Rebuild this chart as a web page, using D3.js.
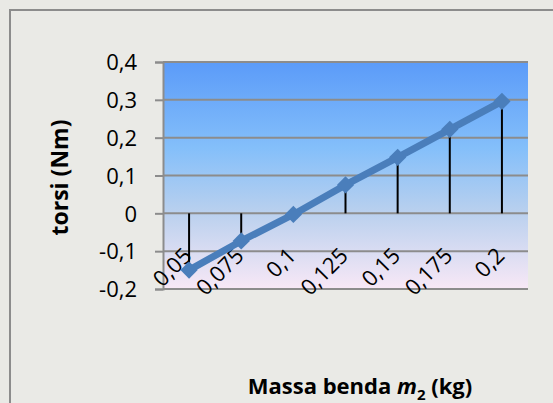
<!DOCTYPE html>
<html lang="en">
<head>
<meta charset="UTF-8">
<title>Torsi vs Massa benda</title>
<script src="https://d3js.org/d3.v7.min.js"></script>
<style>
    body { margin: 0; background: #e9e9e5; }
    text { font-family: "Open Sans", "Noto Sans", Arial, sans-serif; fill: #000; }
</style>
</head>
<body>
<div id="chart"></div>
<script>
// Data
const categories = ["0,05", "0,075", "0,1", "0,125", "0,15", "0,175", "0,2"];
const torque = [-0.15, -0.073, -0.003, 0.075, 0.148, 0.222, 0.296];
const yTicks = [-0.2, -0.1, 0, 0.1, 0.2, 0.3, 0.4];
const yTickLabels = ["-0,2", "-0,1", "0", "0,1", "0,2", "0,3", "0,4"];

const W = 553, H = 403;
const plot = { left: 163, right: 528, top: 62, bottom: 289 };

const svg = d3.select("#chart").append("svg")
    .attr("width", W).attr("height", H);

// page background and frame
svg.append("rect").attr("width", W).attr("height", H).attr("fill", "#e9e9e5");
svg.append("rect")
    .attr("x", 10).attr("y", 10).attr("width", W).attr("height", H)
    .attr("fill", "#eaeae6").attr("stroke", "#8c8c8c").attr("stroke-width", 2);

const x = d3.scaleBand().domain(categories).range([plot.left, plot.right]).padding(0);
const y = d3.scaleLinear().domain([-0.2, 0.4]).range([plot.bottom, plot.top]);
const cx = d => x(d) + x.bandwidth() / 2;

// plot area gradient
const grad = svg.append("defs").append("linearGradient")
    .attr("id", "bg").attr("x1", 0).attr("y1", 0).attr("x2", 0).attr("y2", 1);
grad.append("stop").attr("offset", "0%").attr("stop-color", "#5b9bf9");
grad.append("stop").attr("offset", "38%").attr("stop-color", "#84bffa");
grad.append("stop").attr("offset", "66%").attr("stop-color", "#b9d0ee");
grad.append("stop").attr("offset", "100%").attr("stop-color", "#f8e8f6");

svg.append("rect")
    .attr("x", plot.left).attr("y", plot.top)
    .attr("width", plot.right - plot.left).attr("height", plot.bottom - plot.top)
    .attr("fill", "url(#bg)");

// y axis with gridlines
const yAxis = svg.append("g")
    .attr("transform", `translate(${plot.left},0)`)
    .call(d3.axisLeft(y).tickValues(yTicks).tickSize(8)
        .tickFormat((d, i) => yTickLabels[i]));
yAxis.select(".domain").attr("stroke", "#8c8c8c").attr("stroke-width", 2);
yAxis.selectAll(".tick line").attr("stroke", "#8c8c8c").attr("stroke-width", 2);
yAxis.selectAll(".tick text").attr("x", -26).style("font-size", "22px").attr("dy", "0.35em");

svg.append("g").selectAll("line")
    .data(yTicks)
    .join("line")
    .attr("x1", plot.left).attr("x2", plot.right)
    .attr("y1", d => y(d)).attr("y2", d => y(d))
    .attr("stroke", "#8c8c8c").attr("stroke-width", 2);

// x tick labels (rotated)
svg.append("g").selectAll("text")
    .data(categories)
    .join("text")
    .attr("transform", d => `translate(${cx(d) + 4},${y(-0.1) + 6}) rotate(-45)`)
    .attr("text-anchor", "end")
    .style("font-size", "22px")
    .text(d => d);

// drop lines from zero to each value
svg.append("g").selectAll("line")
    .data(torque)
    .join("line")
    .attr("x1", (d, i) => cx(categories[i]))
    .attr("x2", (d, i) => cx(categories[i]))
    .attr("y1", y(0)).attr("y2", d => y(d))
    .attr("stroke", "#000").attr("stroke-width", 2);

// series line
const line = d3.line()
    .x((d, i) => cx(categories[i]))
    .y(d => y(d));
svg.append("path")
    .datum(torque)
    .attr("d", line)
    .attr("fill", "none")
    .attr("stroke", "#4a7ebb")
    .attr("stroke-width", 7)
    .attr("stroke-linejoin", "round");

// diamond markers
svg.append("g").selectAll("path")
    .data(torque)
    .join("path")
    .attr("transform", (d, i) => `translate(${cx(categories[i])},${y(d)})`)
    .attr("d", d3.symbol(d3.symbolDiamond2, 190))
    .attr("fill", "#4a7ebb");

// axis titles
svg.append("text")
    .attr("transform", `translate(68,${(plot.top + plot.bottom) / 2 + 2}) rotate(-90)`)
    .attr("text-anchor", "middle")
    .style("font-size", "23px").style("font-weight", "bold")
    .text("torsi (Nm)");

const xt = svg.append("text")
    .attr("x", 360).attr("y", 394)
    .attr("text-anchor", "middle")
    .style("font-size", "22px").style("font-weight", "bold");
xt.append("tspan").text("Massa benda ");
xt.append("tspan").style("font-style", "italic").text("m");
xt.append("tspan").attr("dy", 6).style("font-size", "15px").text("2");
xt.append("tspan").attr("dy", -6).text(" (kg)");
</script>
</body>
</html>
